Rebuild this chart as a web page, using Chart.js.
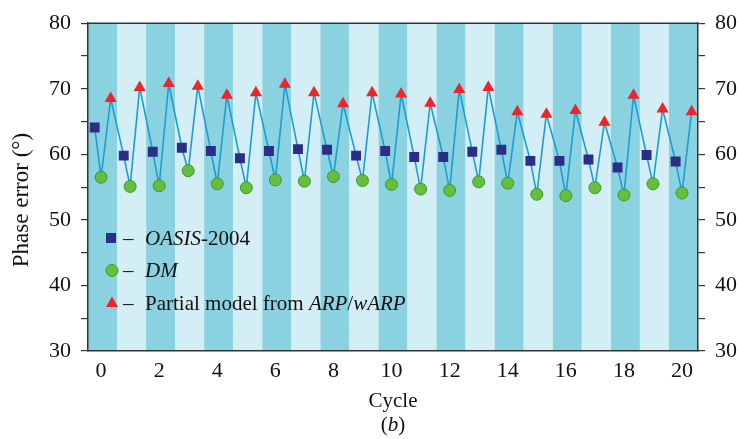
<!DOCTYPE html>
<html>
<head>
<meta charset="utf-8">
<script src="https://cdn.jsdelivr.net/npm/chart.js@4.4.1/dist/chart.umd.min.js"></script>
<style>
  body { margin: 0; background: #fff; }
  #wrap { width: 738px; height: 439px; }
</style>
</head>
<body>
<div id="wrap"><canvas id="phaseChart" width="738" height="439"></canvas></div>
<script>
// values, one per cycle
const cycles = [0, 1, 2, 3, 4, 5, 6, 7, 8, 9, 10, 11, 12, 13, 14, 15, 16, 17, 18, 19, 20];
const oasisErr = [64.1, 59.8, 60.4, 61.0, 60.5, 59.4, 60.5, 60.8, 60.7, 59.8, 60.5, 59.6, 59.6, 60.4, 60.7, 59.0, 59.0, 59.2, 58.0, 59.9, 58.9];
const dmErr = [56.5, 55.1, 55.2, 57.5, 55.5, 54.9, 56.1, 55.9, 56.6, 56.0, 55.4, 54.7, 54.5, 55.8, 55.6, 53.9, 53.7, 54.9, 53.8, 55.5, 54.1];
const arpErr = [68.5, 70.2, 70.8, 70.4, 69.0, 69.4, 70.7, 69.4, 67.7, 69.4, 69.2, 67.8, 69.9, 70.2, 66.5, 66.1, 66.7, 64.9, 69.0, 66.9, 66.5];
const xTickLabels = ['0', '2', '4', '6', '8', '10', '12', '14', '16', '18', '20'];

// within a cycle the three markers sit slightly apart
const oasisShift = -0.22;
const dmShift = 0;
const arpShift = 0.33;

const FONT = "'Liberation Serif', 'DejaVu Serif', serif";

let oasisPts = cycles.map((c, i) => ({x: c + oasisShift, y: oasisErr[i]}));
let dmPts = cycles.map((c, i) => ({x: c + dmShift, y: dmErr[i]}));
let arpPts = cycles.map((c, i) => ({x: c + arpShift, y: arpErr[i]}));

// zigzag line: square -> circle -> triangle -> next square ...
let linePts = [];
for (let i = 0; i < cycles.length; i++) {
    linePts.push(oasisPts[i], dmPts[i], arpPts[i]);
}

// draws a run of text pieces, some italic, starting at x
function drawParts(ctx, parts, x, y, size) {
    for (let [txt, ital] of parts) {
        ctx.font = (ital ? 'italic ' : '') + size + 'px ' + FONT;
        ctx.fillText(txt, x, y);
        x += ctx.measureText(txt).width;
    }
}

function partsWidth(ctx, parts, size) {
    let w = 0;
    for (let [txt, ital] of parts) {
        ctx.font = (ital ? 'italic ' : '') + size + 'px ' + FONT;
        w += ctx.measureText(txt).width;
    }
    return w;
}

// striped background, one stripe per cycle
const bandsPlugin = {
    id: 'bands',
    beforeDraw(chart) {
        let ctx = chart.ctx;
        let area = chart.chartArea;
        let xs = chart.scales.x;
        ctx.save();
        for (let i = 0; i <= 20; i++) {
            let x0 = xs.getPixelForValue(i - 0.45);
            let x1 = xs.getPixelForValue(i + 0.55);
            ctx.fillStyle = (i % 2 == 0) ? '#8bd2e0' : '#d3eef4';
            ctx.fillRect(x0, area.top, x1 - x0, area.bottom - area.top);
        }
        ctx.restore();
    },
    afterDraw(chart) {
        let ctx = chart.ctx;
        let area = chart.chartArea;
        ctx.save();
        // top frame line
        ctx.strokeStyle = '#333';
        ctx.lineWidth = 1.5;
        ctx.beginPath();
        ctx.moveTo(area.left, area.top);
        ctx.lineTo(area.right, area.top);
        ctx.stroke();

        ctx.fillStyle = '#111';
        ctx.textBaseline = 'middle';
        // y axis title, a bit below the centre like the original
        ctx.save();
        ctx.translate(22, 200);
        ctx.rotate(-Math.PI / 2);
        ctx.textAlign = 'center';
        ctx.font = '23px ' + FONT;
        ctx.fillText('Phase error (°)', 0, 0);
        ctx.restore();

        // (b) caption
        let cap = [['(', false], ['b', true], [')', false]];
        let w = partsWidth(ctx, cap, 21);
        ctx.textAlign = 'left';
        drawParts(ctx, cap, (area.left + area.right) / 2 - w / 2, 425, 21);
        ctx.restore();
    }
};

// legend with italic parts, drawn by hand
const legendRows = [
    {shape: 'rect', parts: [['OASIS', true], ['-2004', false]]},
    {shape: 'circle', parts: [['DM', true]]},
    {shape: 'triangle', parts: [['Partial model from ', false], ['ARP', true], ['/', false], ['wARP', true]]}
];

const legendPlugin = {
    id: 'legendText',
    afterDatasetsDraw(chart) {
        let ctx = chart.ctx;
        ctx.save();
        let y = 238;
        for (let row of legendRows) {
            let mx = 111;
            if (row.shape == 'rect') {
                ctx.fillStyle = '#2b2d86';
                ctx.fillRect(mx - 5, y - 5, 10, 10);
            } else if (row.shape == 'circle') {
                ctx.fillStyle = '#67bd3c';
                ctx.strokeStyle = '#3d9a2b';
                ctx.lineWidth = 1;
                ctx.beginPath();
                ctx.arc(mx + 1, y, 6, 0, Math.PI * 2);
                ctx.fill();
                ctx.stroke();
            } else {
                ctx.fillStyle = '#ec2528';
                ctx.beginPath();
                ctx.moveTo(mx + 1, y - 6.5);
                ctx.lineTo(mx + 7, y + 4);
                ctx.lineTo(mx - 5, y + 4);
                ctx.closePath();
                ctx.fill();
            }
            ctx.fillStyle = '#111';
            ctx.textBaseline = 'middle';
            ctx.font = '21px ' + FONT;
            ctx.fillText('–', 123, y + 1);
            drawParts(ctx, row.parts, 145, y + 1, 21);
            y += 32.5;
        }
        ctx.restore();
    }
};

function yTicks(value) {
    return (value % 10 == 0) ? String(value) : '';
}

new Chart(document.getElementById('phaseChart'), {
    type: 'scatter',
    data: {
        datasets: [
            {
                label: 'OASIS-2004',
                data: oasisPts,
                pointStyle: 'rect',
                pointRadius: 7,
                pointBackgroundColor: '#2b2d86',
                pointBorderColor: '#2b2d86',
                pointBorderWidth: 0,
                order: 1
            },
            {
                label: 'DM',
                data: dmPts,
                pointStyle: 'circle',
                pointRadius: 6,
                pointBackgroundColor: '#67bd3c',
                pointBorderColor: '#3d9a2b',
                pointBorderWidth: 1,
                order: 1
            },
            {
                label: 'Partial model from ARP/wARP',
                data: arpPts,
                pointStyle: 'triangle',
                pointRadius: 7,
                pointBackgroundColor: '#ec2528',
                pointBorderColor: '#ec2528',
                pointBorderWidth: 0,
                order: 1
            },
            {
                type: 'line',
                label: 'sequence',
                data: linePts,
                borderColor: '#1b9dd4',
                borderWidth: 1.6,
                pointRadius: 0,
                tension: 0,
                order: 10
            }
        ]
    },
    options: {
        responsive: false,
        animation: false,
        layout: {padding: {top: 22, left: 0, right: 0, bottom: 0}},
        plugins: {
            legend: {display: false},
            tooltip: {enabled: false}
        },
        scales: {
            x: {
                type: 'linear',
                min: -0.45,
                max: 20.55,
                afterBuildTicks: (scale) => {
                    scale.ticks = xTickLabels.map(t => ({value: Number(t)}));
                },
                afterFit: (scale) => { scale.height = 88; },
                grid: {drawOnChartArea: false, drawTicks: false},
                border: {display: true, color: '#333', width: 1.5},
                ticks: {
                    font: {family: FONT, size: 22},
                    color: '#111',
                    padding: 7,
                    maxRotation: 0,
                    autoSkip: false,
                    callback: (v) => String(v)
                },
                title: {
                    display: true,
                    text: 'Cycle',
                    font: {family: FONT, size: 21},
                    color: '#111',
                    padding: {top: 2, bottom: 25}
                }
            },
            y: {
                position: 'left',
                min: 30,
                max: 80,
                afterFit: (scale) => { scale.width = 88; },
                grid: {drawOnChartArea: false, drawTicks: true, tickLength: 7, color: '#333', lineWidth: 1.2},
                border: {display: true, color: '#333', width: 1.5},
                ticks: {
                    stepSize: 5,
                    font: {family: FONT, size: 22},
                    color: '#111',
                    padding: 10,
                    autoSkip: false,
                    callback: yTicks
                }
            },
            y2: {
                position: 'right',
                min: 30,
                max: 80,
                afterFit: (scale) => { scale.width = 40; },
                grid: {drawOnChartArea: false, drawTicks: true, tickLength: 7, color: '#333', lineWidth: 1.2},
                border: {display: true, color: '#333', width: 1.5},
                ticks: {
                    stepSize: 5,
                    font: {family: FONT, size: 22},
                    color: '#111',
                    padding: 10,
                    autoSkip: false,
                    callback: yTicks
                }
            }
        }
    },
    plugins: [bandsPlugin, legendPlugin]
});
</script>
</body>
</html>
